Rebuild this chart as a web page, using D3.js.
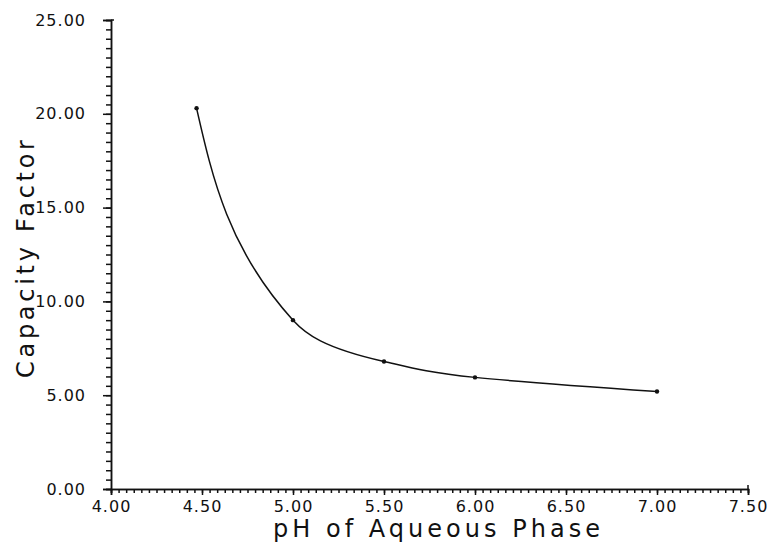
<!DOCTYPE html>
<html>
<head>
<meta charset="utf-8">
<script src="https://cdn.jsdelivr.net/npm/d3@7"></script>
<style>
  body { margin: 0; background: #fff; }
  text { font-family: "DejaVu Sans", sans-serif; fill: #111; }
</style>
</head>
<body>
<div class="chart"></div>
<script>
// data
const pH = [4.47, 5.0, 5.5, 6.0, 7.0]
const capacity = [20.3, 9.0, 6.8, 5.95, 5.2]
const xTicks = [4.0, 4.5, 5.0, 5.5, 6.0, 6.5, 7.0, 7.5]
const yTicks = [0, 5, 10, 15, 20, 25]

const data = pH.map((p, i) => ({ph: p, k: capacity[i]}))

const width = 768, height = 545
const margin = ({top: 20, right: 20, bottom: 56, left: 111})

const svg = d3.select(".chart").append("svg")
    .attr("width", width)
    .attr("height", height)

const xScale = d3.scaleLinear()
    .domain([4.0, 7.5])
    .range([margin.left, 748])

const yScale = d3.scaleLinear()
    .domain([0, 25])
    .range([489, margin.top])

// minor ticks
const xMinor = d3.range(0, 85).map(i => 4.0 + i * 0.5 / 12)
const yMinor = d3.range(0, 51).map(i => i * 0.5)

const xAxis = d3.axisBottom(xScale)
    .tickValues(xTicks)
    .tickFormat(d3.format(".2f"))
    .tickSize(6)
    .tickPadding(6)

const xAxisMinor = d3.axisBottom(xScale)
    .tickValues(xMinor)
    .tickFormat('')
    .tickSize(4)

const yAxis = d3.axisLeft(yScale)
    .tickValues(yTicks)
    .tickFormat(d3.format(".2f"))
    .tickSize(8)
    .tickPadding(17)

const yAxisMinor = d3.axisLeft(yScale)
    .tickValues(yMinor)
    .tickFormat('')
    .tickSize(5)

svg.append("g")
    .attr("class", "axis x-minor")
    .attr("transform", `translate(0, ${yScale(0)})`)
    .call(xAxisMinor)

svg.append("g")
    .attr("class", "axis x-axis")
    .attr("transform", `translate(0, ${yScale(0)})`)
    .call(xAxis)

svg.append("g")
    .attr("class", "axis y-minor")
    .attr("transform", `translate(${xScale(4.0)}, 0)`)
    .call(yAxisMinor)

svg.append("g")
    .attr("class", "axis y-axis")
    .attr("transform", `translate(${xScale(4.0)}, 0)`)
    .call(yAxis)

svg.selectAll(".axis path, .axis line")
    .attr("stroke", "#111")
    .attr("stroke-width", 1.5)

svg.selectAll(".axis text")
    .attr("font-size", 16)
    .attr("letter-spacing", 1)
    .attr("fill", "#111")

// little end caps
svg.append("line")
    .attr("x1", xScale(7.5)).attr("x2", xScale(7.5))
    .attr("y1", yScale(0)).attr("y2", yScale(0) - 4)
    .attr("stroke", "#111").attr("stroke-width", 1.5)
svg.append("line")
    .attr("x1", xScale(4.0)).attr("x2", xScale(4.0) + 3)
    .attr("y1", yScale(25)).attr("y2", yScale(25))
    .attr("stroke", "#111").attr("stroke-width", 1.5)

svg.append("text")
    .attr("class", "x label")
    .attr("text-anchor", "start")
    .attr("x", 273)
    .attr("y", 537)
    .attr("font-size", 24)
    .attr("textLength", 327)
    .attr("lengthAdjust", "spacing")
    .text("pH of Aqueous Phase")

svg.append("text")
    .attr("class", "y label")
    .attr("text-anchor", "start")
    .attr("transform", "translate(34, 378) rotate(-90)")
    .attr("font-size", 24)
    .attr("textLength", 238)
    .attr("lengthAdjust", "spacing")
    .text("Capacity Factor")

// smooth curve, monotone along the vertical so it bows like the original
const line = d3.line()
    .x(d => xScale(d.ph))
    .y(d => yScale(d.k))
    .curve(d3.curveMonotoneY)

svg.append("path")
    .datum(data)
    .attr("fill", "none")
    .attr("stroke", "#111")
    .attr("stroke-width", 1.5)
    .attr("d", line)

svg.selectAll("circle")
    .data(data)
    .enter()
    .append("circle")
    .attr("cx", d => xScale(d.ph))
    .attr("cy", d => yScale(d.k))
    .attr("r", 2.2)
    .attr("fill", "#111")
</script>
</body>
</html>
